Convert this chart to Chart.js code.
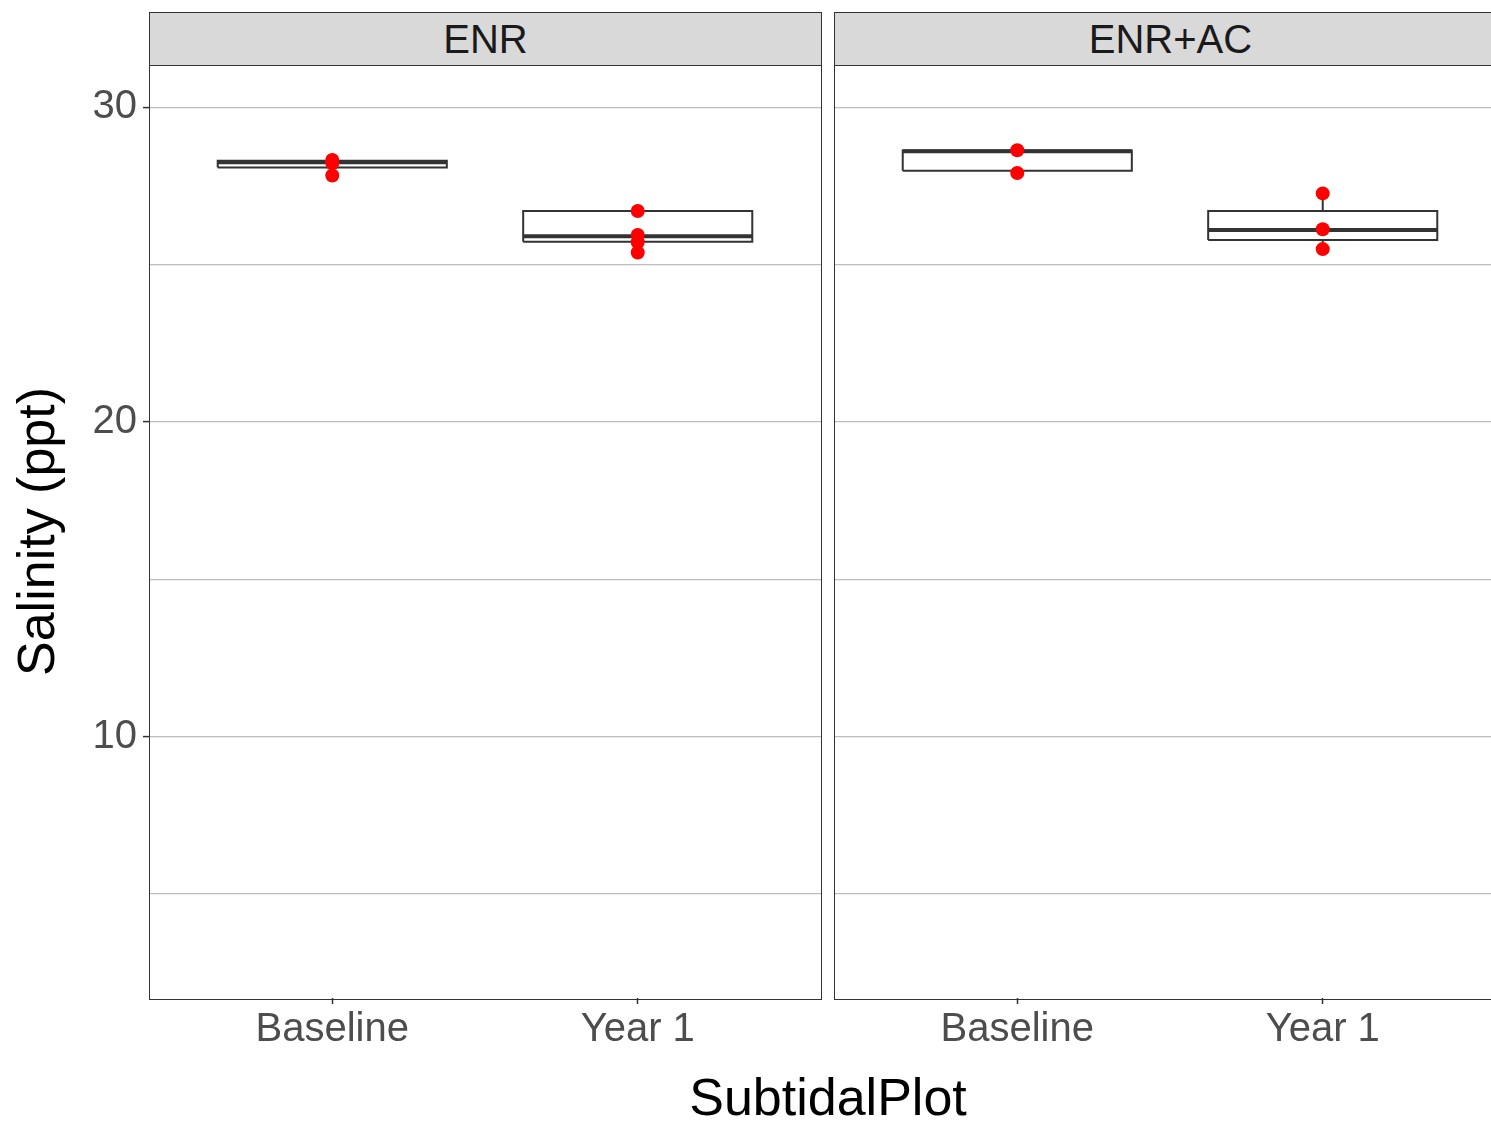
<!DOCTYPE html>
<html>
<head>
<meta charset="utf-8">
<script src="https://cdn.jsdelivr.net/npm/chart.js@4.4.1/dist/chart.umd.min.js"></script>
<style>
  html, body { margin: 0; padding: 0; background: #fff; width: 1491px; height: 1123px; overflow: hidden; }
  body { position: relative; font-family: "Liberation Sans", Arial, sans-serif; }
  .abs { position: absolute; }
  .frame { position: absolute; box-sizing: border-box; border: 1.5px solid #333; pointer-events: none; }
  .strip { position: absolute; box-sizing: border-box; border: 1.5px solid #333; background: #d9d9d9;
           color: #1a1a1a; font-size: 40px; text-align: center; line-height: 52px; }
  #xtitle { position: absolute; left: 0; width: 1656px; top: 1067px; text-align: center; font-size: 52px; color: #000; line-height: 60px; }
</style>
</head>
<body>
<div class="strip" id="strip0" style="left:149px; top:12px; width:673px; height:54px;"></div>
<div class="strip" id="strip1" style="left:834px; top:12px; width:673px; height:54px;"></div>
<div class="abs" style="left:0; top:65px; width:821px; height:1053px;"><canvas id="c0"></canvas></div>
<div class="abs" style="left:834px; top:65px; width:672px; height:1053px;"><canvas id="c1"></canvas></div>
<div class="frame" style="left:149px; top:65px; width:673px; height:935px;"></div>
<div class="frame" style="left:834px; top:65px; width:673px; height:935px;"></div>
<div id="xtitle">SubtidalPlot</div>
<script>
// ---- data ----
const categories = ['Baseline', 'Year 1'];
const panelNames = ['ENR', 'ENR+AC'];
const yTitle = 'Salinity (ppt)';

const enrQ1 = [28.08, 25.72];
const enrMedian = [28.25, 25.90];
const enrQ3 = [28.30, 26.70];
const enrLow = [27.83, 25.38];
const enrHigh = [28.32, 26.70];
const enrBaselinePoints = [28.32, 28.22, 27.83];
const enrYear1Points = [26.70, 25.94, 25.71, 25.38];

const acQ1 = [27.98, 25.78];
const acMedian = [28.60, 26.10];
const acQ3 = [28.62, 26.70];
const acLow = [27.91, 25.49];
const acHigh = [28.63, 27.26];
const acBaselinePoints = [28.63, 27.91];
const acYear1Points = [27.26, 26.12, 25.49];

const yMin = 1.69, yMax = 31.34;
const BOX_HALF = 0.375;

document.getElementById('strip0').textContent = panelNames[0];
document.getElementById('strip1').textContent = panelNames[1];

function buildDatasets(q1, med, q3, lo, hi, pointSets) {
  const ds = [];
  const pts = [];
  pointSets.forEach((arr, i) => arr.forEach(v => pts.push({x: i + 1, y: v})));
  ds.push({ type: 'scatter', data: pts, backgroundColor: '#ff0000', borderWidth: 0,
            pointRadius: 7, pointHoverRadius: 7, order: 0 });
  categories.forEach((c, i) => {
    const x = i + 1;
    const common = { type: 'scatter', showLine: true, pointRadius: 0, borderColor: '#333333',
                     borderWidth: 2, fill: false, tension: 0, order: 2 };
    // box outline
    ds.push(Object.assign({}, common, { data: [
      {x: x - BOX_HALF, y: q1[i]}, {x: x + BOX_HALF, y: q1[i]}, {x: x + BOX_HALF, y: q3[i]},
      {x: x - BOX_HALF, y: q3[i]}, {x: x - BOX_HALF, y: q1[i]}] }));
    // whiskers
    ds.push(Object.assign({}, common, { data: [{x: x, y: q3[i]}, {x: x, y: hi[i]}] }));
    ds.push(Object.assign({}, common, { data: [{x: x, y: q1[i]}, {x: x, y: lo[i]}] }));
    // median
    ds.push(Object.assign({}, common, { borderWidth: 4, order: 1,
      data: [{x: x - BOX_HALF, y: med[i]}, {x: x + BOX_HALF, y: med[i]}] }));
  });
  return ds;
}

function zeroPad(s) { s.paddingTop = 0; s.paddingBottom = 0; s.paddingLeft = 0; s.paddingRight = 0; }

function makeChart(id, datasets, showY) {
  return new Chart(document.getElementById(id), {
    type: 'scatter',
    data: { datasets: datasets },
    options: {
      responsive: true, maintainAspectRatio: false, animation: false,
      layout: { padding: 0, autoPadding: false },
      plugins: { legend: { display: false }, tooltip: { enabled: false } },
      scales: {
        x: {
          type: 'linear', min: 0.4, max: 2.6,
          afterBuildTicks: s => { s.ticks = categories.map((c, i) => ({ value: i + 1 })); },
          afterFit: s => { s.height = 120; zeroPad(s); },
          grid: { display: true, drawOnChartArea: false, drawTicks: true, tickLength: 6, tickColor: '#333333', tickWidth: 1.5 },
          border: { display: false },
          ticks: { autoSkip: false, maxRotation: 0, padding: 2, color: '#4d4d4d',
                   font: { family: '"Liberation Sans", Arial, sans-serif', size: 40 },
                   callback: v => categories[Math.round(v) - 1] }
        },
        y: {
          type: 'linear', min: yMin, max: yMax,
          afterFit: s => { s.width = showY ? 149 : 0; zeroPad(s); },
          grid: { color: '#bdbdbd', lineWidth: 1.2, drawTicks: showY, tickLength: 6,
                  tickColor: ctx => (ctx.tick && Math.round(ctx.tick.value) % 10 === 0) ? '#333333' : 'rgba(0,0,0,0)',
                  tickWidth: 1.5 },
          border: { display: false },
          ticks: { display: showY, stepSize: 5, includeBounds: false, padding: 6, color: '#4d4d4d',
                   font: { family: '"Liberation Sans", Arial, sans-serif', size: 40 },
                   callback: v => (Math.round(v) % 10 === 0 ? String(v) : '') },
          title: { display: showY, text: yTitle, color: '#000',
                   font: { family: '"Liberation Sans", Arial, sans-serif', size: 52 },
                   padding: { top: 8, bottom: 0 } }
        }
      }
    }
  });
}

makeChart('c0', buildDatasets(enrQ1, enrMedian, enrQ3, enrLow, enrHigh, [enrBaselinePoints, enrYear1Points]), true);
makeChart('c1', buildDatasets(acQ1, acMedian, acQ3, acLow, acHigh, [acBaselinePoints, acYear1Points]), false);
</script>
</body>
</html>
